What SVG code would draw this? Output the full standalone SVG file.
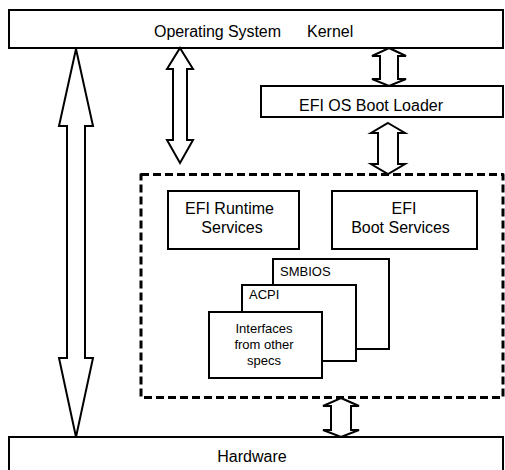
<svg xmlns="http://www.w3.org/2000/svg" width="505" height="470" viewBox="0 0 505 470">
  <style>
    .box { fill: #fff; stroke: #000; stroke-width: 2; }
    .frame { fill: none; stroke: #000; stroke-width: 3; stroke-dasharray: 8 4; stroke-linejoin: round; }
    .arrow { fill: #fff; stroke: #000; stroke-width: 2; stroke-linejoin: miter; }
    text { font-family: "Liberation Sans", Arial, Helvetica, sans-serif; fill: #000; }
    .lg { font-size: 16px; }
    .sm { font-size: 13px; }
  </style>
  <rect width="505" height="470" fill="#fff"/>

  <g id="kernel">
    <rect class="box" x="9" y="10" width="494" height="38"/>
    <text class="lg" x="154" y="36.5" textLength="127">Operating System</text>
    <text class="lg" x="307" y="36.5">Kernel</text>
  </g>

  <g id="boot-loader">
    <rect class="box" x="261" y="86" width="242" height="31"/>
    <text class="lg" x="371" y="111" text-anchor="middle">EFI OS Boot Loader</text>
  </g>

  <g id="efi-frame">
    <rect class="frame" x="141" y="174.5" width="362" height="223"/>
  </g>

  <g id="runtime-services">
    <rect class="box" x="168" y="191" width="131" height="58"/>
    <text class="lg" x="229.5" y="214" text-anchor="middle">EFI Runtime</text>
    <text class="lg" x="232" y="233" text-anchor="middle">Services</text>
  </g>

  <g id="boot-services">
    <rect class="box" x="332" y="191" width="145" height="58"/>
    <text class="lg" x="404" y="214" text-anchor="middle">EFI</text>
    <text class="lg" x="400.5" y="233" text-anchor="middle">Boot Services</text>
  </g>

  <g id="smbios">
    <rect class="box" x="273" y="259" width="116" height="90"/>
    <text class="sm" x="280" y="276">SMBIOS</text>
  </g>

  <g id="acpi">
    <rect class="box" x="242" y="285" width="114" height="76"/>
    <text class="sm" x="249" y="299">ACPI</text>
  </g>

  <g id="other-interfaces">
    <rect class="box" x="209" y="312" width="113" height="66"/>
    <text class="sm" x="264" y="333" text-anchor="middle">Interfaces</text>
    <text class="sm" x="264" y="349" text-anchor="middle">from other</text>
    <text class="sm" x="264" y="365" text-anchor="middle">specs</text>
  </g>

  <g id="hardware">
    <rect class="box" x="9" y="437" width="494" height="50"/>
    <text class="lg" x="252" y="461.5" text-anchor="middle">Hardware</text>
  </g>

  <g id="connectors">
    <!-- kernel <-> hardware -->
    <polygon class="arrow" points="76,49 93,126 85,126 85,358 93,358 76,437 59,358 67,358 67,126 59,126"/>
    <!-- kernel <-> runtime services -->
    <polygon class="arrow" points="180,48 193,69 187,69 187,140 193,140 180,163 167,140 173,140 173,69 167,69"/>
    <!-- kernel <-> boot loader -->
    <polygon class="arrow" points="389,48 406,56 398,56 398,79 406,79 389,86 372,79 380,79 380,56 372,56"/>
    <!-- boot loader <-> firmware -->
    <polygon class="arrow" points="388,123 405,133 398,133 398,164 405,164 388,174 371,164 378,164 378,133 371,133"/>
    <!-- firmware <-> hardware -->
    <polygon class="arrow" points="341,398 359,406 351,406 351,430 359,430 341,437 323,430 331,430 331,406 323,406"/>
  </g>
</svg>
